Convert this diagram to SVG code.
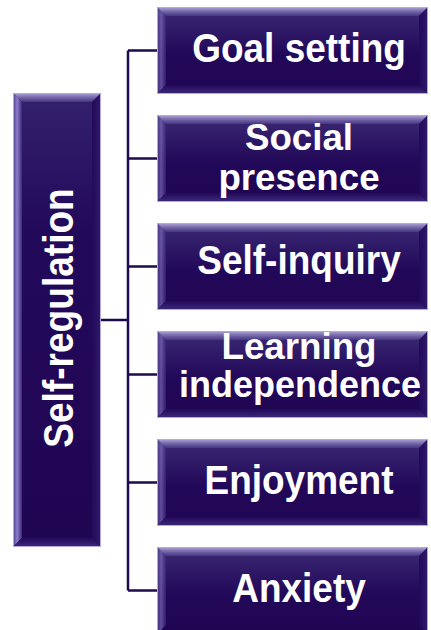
<svg xmlns="http://www.w3.org/2000/svg" width="431" height="630" viewBox="0 0 431 630">
<defs>
<linearGradient id="gFace" x1="0" y1="0" x2="0" y2="1">
<stop offset="0" stop-color="#3b2a76"/>
<stop offset="0.55" stop-color="#220858"/>
<stop offset="1" stop-color="#1f0552"/>
</linearGradient>
<linearGradient id="gFaceL" x1="0" y1="0" x2="0" y2="1">
<stop offset="0" stop-color="#34226e"/>
<stop offset="0.3" stop-color="#23095a"/>
<stop offset="1" stop-color="#1f0552"/>
</linearGradient>
<linearGradient id="gTop" x1="0" y1="0" x2="0" y2="1">
<stop offset="0" stop-color="#b2a8d6"/>
<stop offset="0.45" stop-color="#7a6cae"/>
<stop offset="1" stop-color="#45357f"/>
</linearGradient>
<linearGradient id="gLeft" x1="0" y1="0" x2="1" y2="0">
<stop offset="0" stop-color="#4a3a88"/>
<stop offset="0.45" stop-color="#8e7ccc"/>
<stop offset="1" stop-color="#3a2878"/>
</linearGradient>
<linearGradient id="gBot" x1="0" y1="0" x2="0" y2="1">
<stop offset="0" stop-color="#23095a"/>
<stop offset="1" stop-color="#3d2a7c"/>
</linearGradient>
<linearGradient id="gRight" x1="0" y1="0" x2="1" y2="0">
<stop offset="0" stop-color="#23095a"/>
<stop offset="1" stop-color="#2f1a6a"/>
</linearGradient>
</defs>
<style>
.face{fill:url(#gFace)}
.faceL{fill:url(#gFaceL)}
.bt{fill:url(#gTop)}
.bl{fill:url(#gLeft)}
.bb{fill:url(#gBot)}
.br{fill:url(#gRight)}
.edge{fill:none;stroke:#b4a9da;stroke-width:1}
.lbl{font-family:"Liberation Sans",Arial,sans-serif;font-weight:bold;font-size:37px;fill:#ffffff;text-anchor:middle}
.lbl2{font-size:36px}
.conn{fill:none;stroke:#1c0a4c;stroke-width:2.5}
</style>

<g id="connectors">
<path class="conn" d="M101,320 H128 M128,50.5 V590.5 M128,50.5 H157 M128,158.5 H157 M128,266.5 H157 M128,374.5 H157 M128,482.5 H157 M128,590.5 H157"/>
</g>

<g id="self-regulation">
<rect class="faceL" x="13" y="93" width="88" height="454"/>
<polygon class="bt" points="13,93 101,93 92,102 22,102"/>
<polygon class="bl" points="13,93 22,102 22,538 13,547"/>
<polygon class="bb" points="13,547 22,538 92,538 101,547"/>
<polygon class="br" points="101,93 92,102 92,538 101,547"/>
<rect class="edge" x="13.5" y="93.5" width="87" height="453"/>
<text class="lbl" transform="translate(73,318) rotate(-90) scale(1.03,1.2)" x="0" y="0" style="font-size:36px">Self-regulation</text>
</g>

<g id="goal-setting">
<rect class="face" x="157" y="7" width="271" height="87"/>
<polygon class="bt" points="157,7 428,7 419,16 166,16"/>
<polygon class="bl" points="157,7 166,16 166,85 157,94" opacity="0.6"/>
<polygon class="bb" points="157,94 166,85 419,85 428,94"/>
<polygon class="br" points="428,7 419,16 419,85 428,94"/>
<rect class="edge" x="157.5" y="7.5" width="270" height="86"/>
<text class="lbl" transform="translate(299,62) scale(1,1.12)">Goal setting</text>
</g>

<g id="social-presence">
<rect class="face" x="157" y="115" width="271" height="87"/>
<polygon class="bt" points="157,115 428,115 419,124 166,124"/>
<polygon class="bl" points="157,115 166,124 166,193 157,202" opacity="0.6"/>
<polygon class="bb" points="157,202 166,193 419,193 428,202"/>
<polygon class="br" points="428,115 419,124 419,193 428,202"/>
<rect class="edge" x="157.5" y="115.5" width="270" height="86"/>
<text class="lbl lbl2" transform="translate(299,150) scale(1.02,1.05)">Social</text>
<text class="lbl lbl2" transform="translate(299,190) scale(1.02,1.05)">presence</text>
</g>

<g id="self-inquiry">
<rect class="face" x="157" y="223" width="271" height="87"/>
<polygon class="bt" points="157,223 428,223 419,232 166,232"/>
<polygon class="bl" points="157,223 166,232 166,301 157,310" opacity="0.6"/>
<polygon class="bb" points="157,310 166,301 419,301 428,310"/>
<polygon class="br" points="428,223 419,232 419,301 428,310"/>
<rect class="edge" x="157.5" y="223.5" width="270" height="86"/>
<text class="lbl" transform="translate(299,274) scale(1,1.12)">Self-inquiry</text>
</g>

<g id="learning-independence">
<rect class="face" x="157" y="331" width="271" height="87"/>
<polygon class="bt" points="157,331 428,331 419,340 166,340"/>
<polygon class="bl" points="157,331 166,340 166,409 157,418" opacity="0.6"/>
<polygon class="bb" points="157,418 166,409 419,409 428,418"/>
<polygon class="br" points="428,331 419,340 419,409 428,418"/>
<rect class="edge" x="157.5" y="331.5" width="270" height="86"/>
<text class="lbl lbl2" transform="translate(299,359) scale(1.02,1.05)">Learning</text>
<text class="lbl lbl2" transform="translate(300,397) scale(1.0,1.05)">independence</text>
</g>

<g id="enjoyment">
<rect class="face" x="157" y="439" width="271" height="87"/>
<polygon class="bt" points="157,439 428,439 419,448 166,448"/>
<polygon class="bl" points="157,439 166,448 166,517 157,526" opacity="0.6"/>
<polygon class="bb" points="157,526 166,517 419,517 428,526"/>
<polygon class="br" points="428,439 419,448 419,517 428,526"/>
<rect class="edge" x="157.5" y="439.5" width="270" height="86"/>
<text class="lbl" transform="translate(299,494) scale(1,1.12)">Enjoyment</text>
</g>

<g id="anxiety">
<rect class="face" x="157" y="547" width="271" height="87"/>
<polygon class="bt" points="157,547 428,547 419,556 166,556"/>
<polygon class="bl" points="157,547 166,556 166,625 157,634" opacity="0.6"/>
<polygon class="br" points="428,547 419,556 419,625 428,634"/>
<rect class="edge" x="157.5" y="547.5" width="270" height="86"/>
<text class="lbl" transform="translate(299,602) scale(1,1.12)">Anxiety</text>
</g>
</svg>
